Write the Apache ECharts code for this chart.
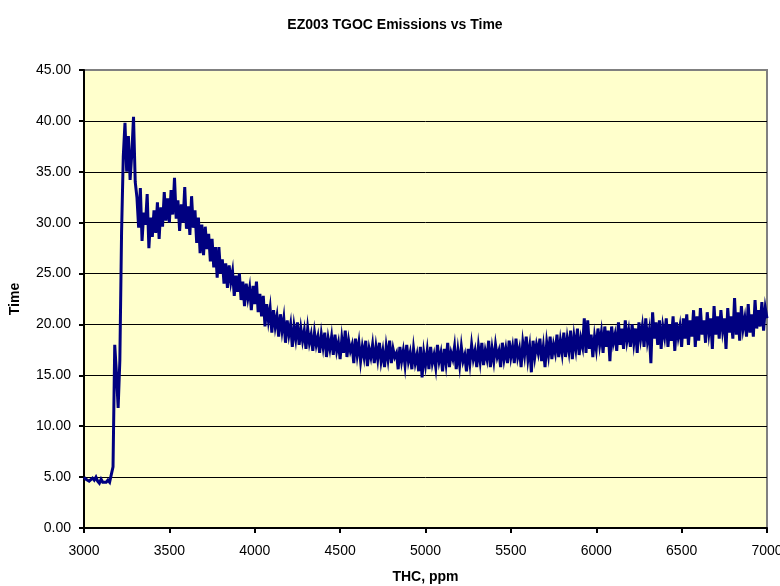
<!DOCTYPE html>
<html>
<head>
<meta charset="utf-8">
<title>EZ003 TGOC Emissions vs Time</title>
<script src="https://cdn.jsdelivr.net/npm/echarts@6/dist/echarts.min.js"></script>
<style>
    html, body { margin: 0; padding: 0; background: #fff; }
    #chart { width: 780px; height: 586px; }
</style>
</head>
<body>
<div id="chart"></div>
<script>
// readings every 10 ppm, one array per 500 ppm stretch
var thcStart = 3000;
var thcStep = 10;

var time3000 = [5.0, 4.8, 4.9, 4.6, 4.5, 4.9, 4.7, 5.0, 4.6, 4.4,
    4.8, 4.5, 4.6, 4.5, 4.7, 4.5, 4.6, 6.0, 18.0, 15.2,
    11.8, 16.5, 29.0, 36.5, 39.8, 35.0, 38.5, 34.2, 36.8, 40.4,
    34.0, 32.5, 29.5, 33.4, 28.2, 31.0, 29.8, 32.8, 27.5, 30.5,
    28.6, 31.2, 29.0, 32.0, 28.4, 31.5, 29.6, 33.0, 30.2, 32.4];

var time3500 = [30.0, 33.2, 30.8, 34.4, 30.4, 32.2, 29.2, 31.8, 30.0, 33.5,
    29.4, 31.6, 28.8, 32.6, 29.5, 31.2, 28.0, 30.5, 27.0, 29.8,
    26.8, 29.6, 27.4, 28.9, 26.2, 28.4, 25.6, 27.6, 24.6, 27.6,
    25.0, 26.4, 24.0, 26.0, 23.6, 25.8, 24.2, 25.2, 22.8, 24.8,
    23.2, 25.0, 22.4, 24.2, 21.8, 24.0, 22.6, 23.6, 21.4, 23.8];

var time4000 = [22.0, 24.2, 21.2, 23.0, 20.8, 22.8, 19.8, 22.0, 20.4, 21.6,
    19.2, 21.4, 19.8, 20.8, 18.8, 21.0, 19.4, 20.6, 18.2, 20.4,
    19.0, 20.0, 17.8, 19.8, 18.6, 20.2, 18.0, 19.6, 18.4, 19.4,
    17.6, 19.6, 18.2, 19.0, 17.4, 19.2, 18.0, 18.8, 17.2, 19.0,
    17.8, 19.2, 16.8, 18.6, 17.6, 18.8, 17.0, 19.0, 17.4, 18.2];

var time4500 = [16.6, 18.6, 17.2, 19.4, 16.8, 18.4, 17.4, 18.0, 16.2, 18.6,
    17.0, 18.2, 16.4, 17.8, 16.8, 18.4, 15.9, 17.6, 16.8, 18.0,
    16.2, 17.8, 16.6, 18.2, 16.4, 17.4, 15.8, 17.8, 16.6, 18.4,
    16.2, 17.6, 16.8, 17.2, 15.6, 17.8, 16.4, 17.4, 16.0, 18.0,
    16.4, 17.2, 15.6, 17.6, 16.2, 17.0, 15.4, 17.8, 14.8, 17.2];

var time5000 = [16.0, 17.4, 15.6, 17.8, 16.2, 17.0, 15.8, 18.0, 16.4, 17.2,
    15.4, 17.6, 16.2, 18.2, 15.8, 17.2, 16.6, 17.8, 15.6, 17.4,
    16.0, 17.8, 16.4, 17.0, 15.4, 17.6, 16.2, 18.0, 16.6, 17.4,
    15.8, 17.8, 16.4, 18.2, 16.0, 17.4, 16.6, 18.4, 15.8, 17.6,
    16.4, 18.0, 16.8, 17.4, 15.8, 18.2, 16.6, 17.6, 16.2, 18.4];

var time5500 = [16.8, 17.8, 16.2, 18.6, 16.8, 17.6, 15.8, 18.2, 17.0, 18.8,
    16.6, 17.8, 15.3, 18.4, 16.8, 18.0, 17.2, 18.6, 16.4, 17.8,
    15.8, 18.2, 17.0, 18.8, 16.6, 18.0, 17.2, 19.0, 16.8, 18.4,
    17.2, 19.2, 16.8, 18.6, 17.4, 19.4, 16.6, 18.8, 17.6, 19.6,
    17.0, 18.6, 17.8, 20.6, 17.2, 20.4, 17.6, 19.0, 16.8, 18.8];

var time6000 = [17.6, 19.6, 18.0, 19.2, 17.2, 19.8, 17.8, 19.4, 16.4, 19.8,
    18.2, 19.0, 17.4, 20.2, 18.0, 19.6, 17.6, 20.4, 18.4, 19.4,
    17.8, 20.0, 18.2, 19.6, 17.2, 20.2, 18.6, 19.8, 17.8, 20.6,
    18.4, 19.4, 16.2, 21.2, 18.6, 20.2, 18.0, 20.4, 17.6, 19.8,
    18.8, 20.6, 17.8, 20.0, 18.4, 20.8, 17.4, 20.2, 18.8, 19.8];

var time6500 = [17.8, 20.6, 18.6, 21.0, 18.0, 20.4, 18.8, 21.4, 17.8, 20.8,
    18.4, 21.6, 19.0, 20.4, 18.2, 21.2, 19.2, 20.6, 17.6, 21.8,
    19.0, 20.8, 18.6, 21.4, 19.4, 20.6, 17.6, 21.6, 19.2, 20.8,
    18.6, 22.6, 19.0, 21.2, 18.4, 21.8, 19.6, 20.6, 18.8, 22.0,
    19.2, 21.0, 18.8, 22.4, 19.6, 21.4, 19.8, 22.2, 19.4, 21.6,
    20.6];

var yTickLabels = ['0.00', '5.00', '10.00', '15.00', '20.00', '25.00', '30.00', '35.00', '40.00', '45.00'];

var timeValues = [].concat(time3000, time3500, time4000, time4500,
    time5000, time5500, time6000, time6500);

var seriesData = timeValues.map(function (v, i) {
    return [thcStart + i * thcStep, v];
});

var font = '"Liberation Sans", Arial, sans-serif';

var chart = echarts.init(document.getElementById('chart'), null, { renderer: 'canvas' });

var option = {
    animation: false,
    backgroundColor: '#ffffff',
    title: {
        text: 'EZ003 TGOC Emissions vs Time',
        left: 390,
        top: 13,
        textAlign: 'center',
        textStyle: {
            fontFamily: font,
            fontSize: 14,
            fontWeight: 'bold',
            color: '#000'
        }
    },
    grid: {
        left: 84,
        right: 13,
        top: 70,
        bottom: 58,
        outerBoundsMode: 'none',
        containLabel: false,
        show: true,
        backgroundColor: '#FFFFCC',
        borderColor: '#808080',
        borderWidth: 2
    },
    xAxis: {
        type: 'value',
        min: 3000,
        max: 7000,
        interval: 500,
        name: 'THC, ppm',
        nameLocation: 'middle',
        nameGap: 42,
        nameTextStyle: {
            fontFamily: font,
            fontSize: 14,
            fontWeight: 'bold',
            color: '#000'
        },
        axisLine: { show: true, onZero: false, lineStyle: { color: '#000', width: 2 } },
        axisTick: { show: true, length: 5, lineStyle: { color: '#000', width: 2 } },
        axisLabel: {
            fontFamily: font,
            fontSize: 14,
            color: '#000',
            margin: 16,
            formatter: function (v) {
                return String(v);
            }
        },
        splitLine: { show: false }
    },
    yAxis: {
        type: 'value',
        min: 0,
        max: 45,
        interval: 5,
        name: 'Time',
        nameLocation: 'middle',
        nameGap: 62,
        nameRotate: 90,
        nameTextStyle: {
            fontFamily: font,
            fontSize: 14,
            fontWeight: 'bold',
            color: '#000'
        },
        axisLine: { show: true, lineStyle: { color: '#000', width: 2 } },
        axisTick: { show: true, length: 5, lineStyle: { color: '#000', width: 2 } },
        axisLabel: {
            fontFamily: font,
            fontSize: 14,
            color: '#000',
            margin: 13,
            formatter: function (v) {
                return yTickLabels[Math.round(v / 5)];
            }
        },
        splitLine: {
            show: true,
            lineStyle: {
                color: ['#000', '#000', '#000', '#000', '#000', '#000', '#000', '#000', '#000', '#808080'],
                width: 1
            }
        }
    },
    series: [
        {
            name: 'Time',
            type: 'line',
            data: seriesData,
            showSymbol: false,
            symbol: 'none',
            lineStyle: { color: '#000080', width: 3, join: 'miter' },
            z: 3
        }
    ]
};

chart.setOption(option);
</script>
</body>
</html>
